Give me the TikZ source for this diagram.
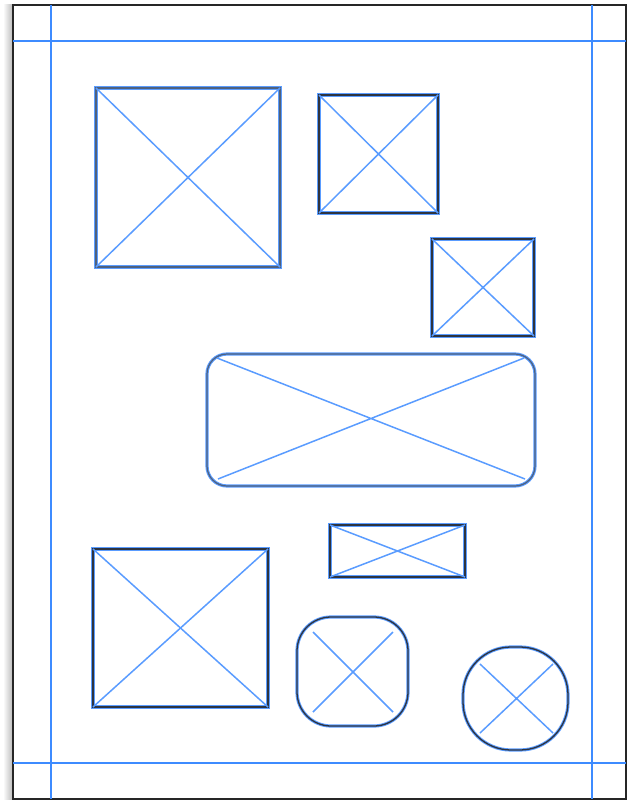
\documentclass[tikz,border=0pt]{standalone}
\usetikzlibrary{calc}
\definecolor{guide}{HTML}{3D8BFF}
\definecolor{xline}{HTML}{5A9CFF}
\definecolor{edge}{HTML}{2E3440}
\begin{document}
\begin{tikzpicture}[x=1pt,y=-1pt,
  guideline/.style={draw=guide,line width=1.2pt},
  cross/.style={draw=xline,line width=1.5pt},
  frame/.style={preaction={draw=xline,line width=3.2pt},draw=edge,line width=1.3pt},
  lightframe/.style={preaction={draw=xline,line width=3.2pt},draw=gray!60!xline!70!black,line width=1.2pt},
  pageedge/.style={draw=black!85,line width=1.5pt}]
\useasboundingbox (0,0) rectangle (634,803);
\fill[white] (0,0) rectangle (634,803);
% left shadow
\shade[left color=white,right color=gray!55] (3,4) rectangle (13,799);
% page
\path[pageedge,fill=white] (13,5) rectangle (626,799);
% guides
\draw[guideline] (51,5) -- (51,799);
\draw[guideline] (592,5) -- (592,799);
\draw[guideline] (13,41) -- (626,41);
\draw[guideline] (13,763) -- (626,763);
% box 1
\path[lightframe] (96,88) rectangle (280,267);
\draw[cross] (96,88) -- (280,267) (96,267) -- (280,88);
% box 2
\path[frame] (319,95) rectangle (438,213);
\draw[cross] (319,95) -- (438,213) (319,213) -- (438,95);
% box 3
\path[frame] (432,239) rectangle (534,336);
\draw[cross] (432,239) -- (534,336) (432,336) -- (534,239);
% rounded wide box
\path[lightframe,rounded corners=20pt] (207,354) rectangle (535,486);
\draw[cross] (217,358) -- (525,479) (218,479) -- (524,358);
% small wide box
\path[frame] (330,525) rectangle (465,577);
\draw[cross] (330,525) -- (465,577) (330,577) -- (465,525);
% box bottom left
\path[frame] (93,549) rectangle (268,707);
\draw[cross] (93,549) -- (268,707) (93,707) -- (268,549);
% rounded square
\path[frame,rounded corners=34pt] (297,617) rectangle (408,726);
\draw[cross] (313,632) -- (393,712) (313,712) -- (393,632);
% circle-like
\path[frame,rounded corners=48pt] (463,647) rectangle (568,750);
\draw[cross] (480,664) -- (553,733) (480,733) -- (553,664);
\end{tikzpicture}
\end{document}
